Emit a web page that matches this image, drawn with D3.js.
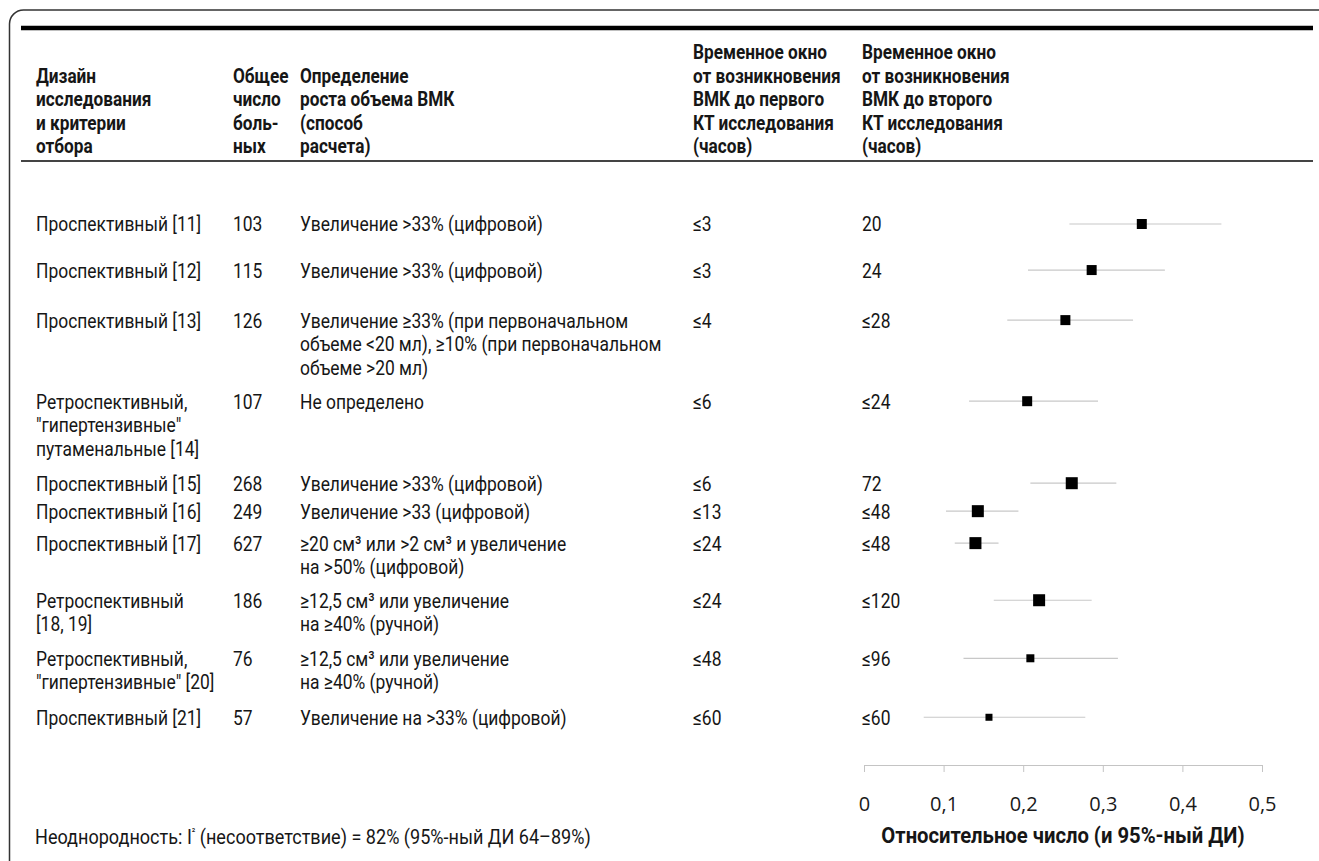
<!DOCTYPE html>
<html>
<head>
<meta charset="utf-8">
<script src="https://cdn.jsdelivr.net/npm/d3@7"></script>
<style>
  body { margin: 0; background: #fff; }
  svg { display: block; }
</style>
</head>
<body>
<svg id="chart" width="1319" height="861"></svg>
<script>
// ---- Data: studies of haematoma growth ----
const designs = [
  ["Проспективный [11]"],
  ["Проспективный [12]"],
  ["Проспективный [13]"],
  ["Ретроспективный,", "\"гипертензивные\"", "путаменальные [14]"],
  ["Проспективный [15]"],
  ["Проспективный [16]"],
  ["Проспективный [17]"],
  ["Ретроспективный", "[18, 19]"],
  ["Ретроспективный,", "\"гипертензивные\" [20]"],
  ["Проспективный [21]"]
];
const patients = ["103", "115", "126", "107", "268", "249", "627", "186", "76", "57"];
const definitions = [
  ["Увеличение >33% (цифровой)"],
  ["Увеличение >33% (цифровой)"],
  ["Увеличение ≥33% (при первоначальном", "объеме <20 мл), ≥10% (при первоначальном", "объеме >20 мл)"],
  ["Не определено"],
  ["Увеличение >33% (цифровой)"],
  ["Увеличение >33 (цифровой)"],
  ["≥20 см³ или >2 см³ и увеличение", "на >50% (цифровой)"],
  ["≥12,5 см³ или увеличение", "на ≥40% (ручной)"],
  ["≥12,5 см³ или увеличение", "на ≥40% (ручной)"],
  ["Увеличение на >33% (цифровой)"]
];
const firstScan = ["≤3", "≤3", "≤4", "≤6", "≤6", "≤13", "≤24", "≤24", "≤48", "≤60"];
const secondScan = ["20", "24", "≤28", "≤24", "72", "≤48", "≤48", "≤120", "≤96", "≤60"];

// proportion with haematoma growth and its 95% CI
const proportion = [0.349, 0.286, 0.253, 0.205, 0.261, 0.143, 0.140, 0.220, 0.209, 0.157];
const ciLow      = [0.258, 0.206, 0.180, 0.132, 0.209, 0.103, 0.114, 0.163, 0.125, 0.075];
const ciHigh     = [0.449, 0.378, 0.338, 0.294, 0.317, 0.194, 0.169, 0.286, 0.319, 0.278];
// relative study weights (marker size)
const weights    = [10, 10, 10, 10, 12, 12, 12, 12, 8, 7];

const tickValues = [0, 0.1, 0.2, 0.3, 0.4, 0.5];
const tickLabels = ["0", "0,1", "0,2", "0,3", "0,4", "0,5"];

const headers = [
  ["Дизайн", "исследования", "и критерии", "отбора"],
  ["Общее", "число", "боль-", "ных"],
  ["Определение", "роста объема ВМК", "(способ", "расчета)"],
  ["Временное окно", "от возникновения", "ВМК до первого", "КТ исследования", "(часов)"],
  ["Временное окно", "от возникновения", "ВМК до второго", "КТ исследования", "(часов)"]
];
const axisTitle = "Относительное число (и 95%-ный ДИ)";
const footnote = ["Неоднородность: I", "²", " (несоответствие) = 82% (95%-ный ДИ 64–89%)"];

// ---- Layout ----
const colX = [36, 233, 300, 693, 862];
const lineH = 23.5;
const headBottom = 146;        // centre of the last header line
const firstRow = 224;          // centre of the first study row
// vertical advance from one study row to the next, in text lines
const rowAdvance = [1.96, 2.13, 3.45, 3.49, 1.19, 1.36, 2.43, 2.47, 2.51];

const body = { family: "Roboto", size: 21, sx: 0.83, weight: 400 };
const bold = { family: "Roboto", size: 21, sx: 0.82, weight: 700 };

const svg = d3.select("#chart");

// frame with a rounded top-left corner
svg.append("path")
  .attr("d", "M9.5,861 V24 A14,14 0 0 1 23.5,10 H1319")
  .attr("fill", "none").attr("stroke", "#333").attr("stroke-width", 1.5);

// table rules
svg.append("line").attr("x1", 21).attr("x2", 1313).attr("y1", 28).attr("y2", 28)
  .attr("stroke", "#000").attr("stroke-width", 4.5);
svg.append("line").attr("x1", 21).attr("x2", 1313).attr("y1", 161).attr("y2", 161)
  .attr("stroke", "#444").attr("stroke-width", 2);

function block(parent, x, yCentre, lines, f, anchor) {
  const t = parent.append("text")
    .attr("transform", `translate(${x},${yCentre + f.size * 0.355}) scale(${f.sx},1)`)
    .attr("font-family", f.family)
    .attr("font-size", f.size)
    .attr("font-weight", f.weight)
    .attr("fill", "#161616")
    .attr("text-anchor", anchor || "start");
  lines.forEach((ln, i) => t.append("tspan").attr("x", 0).attr("y", i * lineH).text(ln));
  return t;
}

// header, bottom-aligned
headers.forEach((lines, c) => {
  block(svg, colX[c], headBottom - (lines.length - 1) * lineH, lines, bold);
});

// row positions in text-line units
const rowUnits = [0];
rowAdvance.forEach((a, i) => rowUnits.push(rowUnits[i] + a));
const y = d3.scaleLinear().domain([0, 1]).range([firstRow, firstRow + lineH]);

const columns = [designs, patients.map(d => [d]), definitions,
                 firstScan.map(d => [d]), secondScan.map(d => [d])];
const rows = svg.append("g");
columns.forEach((col, c) => {
  col.forEach((lines, i) => block(rows, colX[c], y(rowUnits[i]), lines, body));
});

// ---- Forest plot ----
const x = d3.scaleLinear().domain([0, 0.5]).range([864, 1262]);
const size = d3.scaleLinear().domain([0, 12]).range([0, 12]);

const studies = proportion.map((p, i) => ({
  p, lo: ciLow[i], hi: ciHigh[i], w: weights[i], cy: y(rowUnits[i])
}));

const forest = svg.append("g");
forest.selectAll("line.ci").data(studies).join("line")
  .attr("class", "ci")
  .attr("x1", d => x(d.lo)).attr("x2", d => x(d.hi))
  .attr("y1", d => d.cy).attr("y2", d => d.cy)
  .attr("stroke", "#c8c8c8").attr("stroke-width", 1.2);
forest.selectAll("rect.est").data(studies).join("rect")
  .attr("class", "est")
  .attr("x", d => x(d.p) - size(d.w) / 2)
  .attr("y", d => d.cy - size(d.w) / 2)
  .attr("width", d => size(d.w)).attr("height", d => size(d.w))
  .attr("fill", "#000");

const axisY = 765;
const axis = svg.append("g").attr("transform", `translate(0,${axisY})`)
  .call(d3.axisBottom(x).tickValues(tickValues)
    .tickFormat((d, i) => tickLabels[i])
    .tickSize(7).tickSizeOuter(0).tickPadding(25));
axis.select(".domain").attr("stroke", "#c4c4c4");
axis.selectAll(".tick line").attr("stroke", "#c4c4c4");
axis.selectAll(".tick text")
  .attr("font-family", "Open Sans").attr("font-size", 20).attr("fill", "#1a1a1a");

block(svg, 1063, 835, [axisTitle], { family: "Roboto", size: 22.5, sx: 0.9, weight: 700 }, "middle");

// heterogeneity note
const note = svg.append("text")
  .attr("transform", `translate(35,${837 + 21 * 0.355}) scale(0.86,1)`)
  .attr("font-family", "Roboto").attr("font-size", 21).attr("fill", "#161616");
note.append("tspan").text(footnote[0]);
note.append("tspan").attr("font-size", 11).attr("dy", -8).text(footnote[1]);
note.append("tspan").attr("dy", 8).text(footnote[2]);
</script>
</body>
</html>
